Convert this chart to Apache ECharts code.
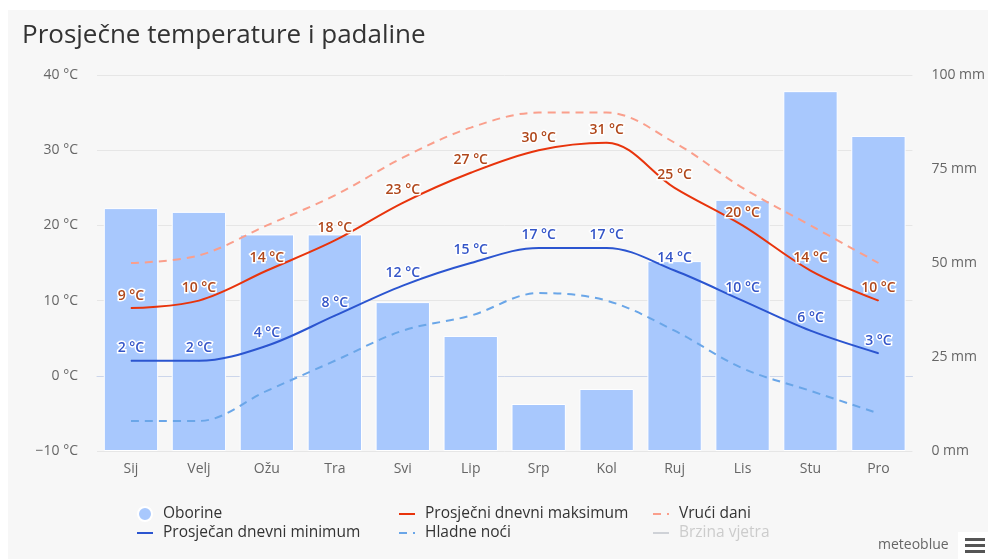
<!DOCTYPE html>
<html><head><meta charset="utf-8">
<script src="https://cdn.jsdelivr.net/npm/echarts@6/dist/echarts.min.js"></script>
<style>html,body{margin:0;padding:0;background:#fff}#c{width:988px;height:559px}</style>
</head><body><div id="c"></div>
<script>
var months = ['Sij','Velj','Ožu','Tra','Svi','Lip','Srp','Kol','Ruj','Lis','Stu','Pro'];
var precipitation = [64.6,63.6,57.6,57.6,39.6,30.6,12.5,16.5,50.5,66.8,95.7,83.8];
var maxTemp = [9,10,14,18,23,27,30,31,25,20,14,10];
var minTemp = [2,2,4,8,12,15,17,17,14,10,6,3];
var hotDays = [15,16,20,24,29,33,35,35,31,25,20,15];
var coldNights = [-6,-6,-2,2,6,8,11,10,6,1,-2,-5];
var windSpeed = [];
var tempTicks = [-10,0,10,20,30,40];
var precTicks = [0,25,50,75,100];

var FONT = '"Open Sans", sans-serif';
var chart = echarts.init(document.getElementById('c'), null, {renderer:'canvas'});
function lbl(color){
  return {show:true, position:'top', distance:5, formatter:function(p){return p.value+' °C';},
    color:color, fontFamily:FONT, fontSize:14, fontWeight:600, textBorderColor:'#fff', textBorderWidth:3};
}
function lineItem(n){ return {name:n, itemStyle:{opacity:0}}; }
var legText = {color:'#333', fontFamily:FONT, fontSize:15.5, padding:[0,0,0,5]};
chart.setOption({
  animation:false,
  backgroundColor:'#fff',
  graphic:[
    {type:'rect', left:8, top:10, shape:{width:980, height:549}, style:{fill:'#f7f7f7'}, z:-10, silent:true},
    {type:'text', left:22, top:23, style:{text:'Prosječne temperature i padaline', font:'26px "Open Sans", sans-serif', fill:'#333'}},
    {type:'text', left:878, top:538, style:{text:'meteoblue', font:'14px "Open Sans", sans-serif', fill:'#666'}},
    {type:'rect', left:958, top:532, shape:{width:30, height:27}, style:{fill:'#fff'}},
    {type:'rect', left:965, top:538, shape:{width:20, height:3}, style:{fill:'#555'}},
    {type:'rect', left:965, top:544, shape:{width:20, height:3}, style:{fill:'#555'}},
    {type:'rect', left:965, top:550, shape:{width:20, height:3}, style:{fill:'#555'}}
  ],
  grid:{left:97, right:74, top:75, bottom:108},
  legend:[
    {left:131, top:501, orient:'vertical', itemGap:3, itemWidth:16, itemHeight:14, textStyle:legText,
     data:[{name:'Oborine', icon:'circle'}, lineItem('Prosječan dnevni minimum')], selectedMode:false},
    {left:393, top:501, orient:'vertical', itemGap:3, itemWidth:16, itemHeight:14, textStyle:legText,
     data:[lineItem('Prosječni dnevni maksimum'), lineItem('Hladne noći')], selectedMode:false},
    {left:647, top:501, orient:'vertical', itemGap:3, itemWidth:16, itemHeight:14, textStyle:legText,
     inactiveColor:'#ccc', data:[lineItem('Vrući dani'), lineItem('Brzina vjetra')], selected:{'Brzina vjetra':false}}
  ],
  xAxis:{type:'category', data:months, boundaryGap:true,
    axisLine:{lineStyle:{color:'#ccd6eb'}}, axisTick:{show:false},
    axisLabel:{color:'#666', fontFamily:FONT, fontSize:14, margin:11}},
  yAxis:[
    {type:'value', min:tempTicks[0], max:tempTicks[tempTicks.length-1], interval:10,
     axisLabel:{color:'#666', fontFamily:FONT, fontSize:14, margin:19, formatter:function(v){return (v<0?'−'+(-v):v)+' °C';}},
     splitLine:{lineStyle:{color:'#e6e6e6'}}, axisLine:{show:false}, axisTick:{show:false}},
    {type:'value', min:precTicks[0], max:precTicks[precTicks.length-1], interval:25, position:'right',
     axisLabel:{color:'#666', fontFamily:FONT, fontSize:14, margin:19, formatter:function(v){return v+' mm';}},
     splitLine:{show:false}, axisLine:{show:false}, axisTick:{show:false}}
  ],
  series:[
    {name:'Oborine', type:'bar', yAxisIndex:1, data:precipitation, barCategoryGap:'20%',
     itemStyle:{color:'#a8c8fd', borderColor:'#fff', borderWidth:1}, z:1},
    {name:'Vrući dani', type:'line', data:hotDays, smooth:0.35, symbol:'circle', symbolSize:0, showSymbol:false,
     lineStyle:{color:'#fa9f8c', width:2, type:[8,6]}, itemStyle:{color:'#fa9f8c'}, z:2},
    {name:'Hladne noći', type:'line', data:coldNights, smooth:0.35, symbol:'circle', symbolSize:0, showSymbol:false,
     lineStyle:{color:'#6aa6e8', width:2, type:[8,6]}, itemStyle:{color:'#6aa6e8'}, z:2},
    {name:'Prosječni dnevni maksimum', type:'line', data:maxTemp, smooth:0.35, symbol:'circle', symbolSize:1, showSymbol:true,
     lineStyle:{color:'#e8340c', width:2}, itemStyle:{color:'#e8340c'}, label:lbl('#b0481c'), z:3},
    {name:'Prosječan dnevni minimum', type:'line', data:minTemp, smooth:0.35, symbol:'circle', symbolSize:1, showSymbol:true,
     lineStyle:{color:'#2b55d0', width:2}, itemStyle:{color:'#2b55d0'}, label:lbl('#3556c8'), z:3},
    {name:'Brzina vjetra', type:'line', data:windSpeed, symbol:'circle', symbolSize:0, lineStyle:{color:'#bbb', width:2}, itemStyle:{color:'#bbb'}}
  ]
});
</script></body></html>
